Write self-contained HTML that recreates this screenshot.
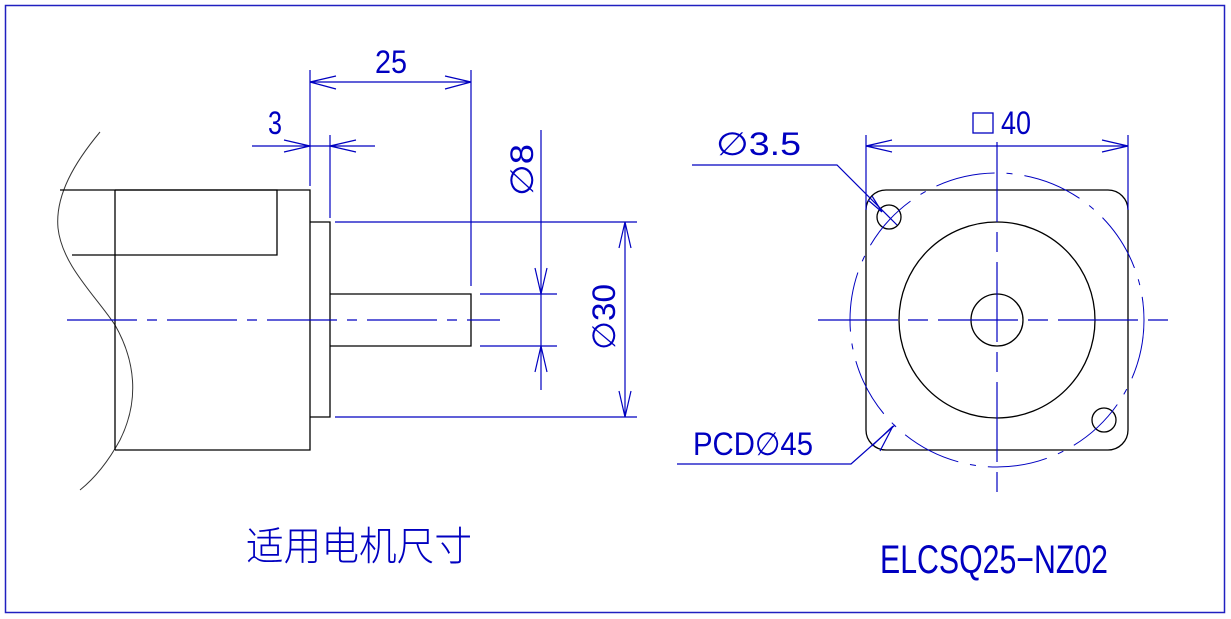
<!DOCTYPE html>
<html><head><meta charset="utf-8"><style>html,body{margin:0;padding:0;background:#fff}svg{display:block}</style></head>
<body>
<svg width="1231" height="619" viewBox="0 0 1231 619" xmlns="http://www.w3.org/2000/svg">
<rect x="5.5" y="5.5" width="1219" height="607" fill="none" stroke="#2020c0" stroke-width="1.5"/>
<g fill="none" stroke="#000" stroke-width="1.3">
<path d="M100,132 C75,162 55,195 58,228 C62,265 95,295 115,325 C135,360 140,400 120,440 C108,462 95,478 80,490" stroke="#333" stroke-width="1"/>
<polyline points="60,190 310,190 310,450 115,450"/>
<line x1="115" y1="190" x2="115" y2="450"/>
<polyline points="115,190 277,190 277,255 72,255"/>
<polyline points="310,222 330,222 330,417 310,417"/>
<polyline points="330,294 471,294 471,346 330,346"/>
<rect x="866" y="190" width="262" height="260" rx="20"/>
<circle cx="997" cy="320" r="98"/>
<circle cx="997" cy="320" r="26"/>
<circle cx="889" cy="217" r="12"/>
<circle cx="1104" cy="420" r="12"/>
</g>
<g fill="none" stroke="#0000c0" stroke-width="1.2">
<line x1="67" y1="320" x2="500" y2="320" stroke-dasharray="70,10,10,10"/>
<line x1="310" y1="70" x2="310" y2="186"/>
<line x1="471" y1="70" x2="471" y2="286"/>
<line x1="310" y1="82" x2="471" y2="82"/>
<path d="M336,76 L310,82 L336,89 M445,76 L471,82 L445,89"/>
<line x1="252" y1="146" x2="375" y2="146"/>
<line x1="330" y1="135" x2="330" y2="218"/>
<path d="M284,140 L310,146 L284,152 M356,140 L330,146 L356,152"/>
<line x1="335" y1="222" x2="637" y2="222"/>
<line x1="335" y1="417" x2="637" y2="417"/>
<line x1="480" y1="294" x2="557" y2="294"/>
<line x1="480" y1="346" x2="557" y2="346"/>
<line x1="541" y1="130" x2="541" y2="390"/>
<path d="M535,268 L541,294 L547,268 M535,372 L541,346 L547,372"/>
<line x1="625" y1="222" x2="625" y2="417"/>
<path d="M619,248 L625,222 L631,248 M619,391 L625,417 L631,391"/>
<line x1="818" y1="320" x2="1177" y2="320" stroke-dasharray="80,10,20,10"/>
<line x1="997" y1="142" x2="997" y2="497" stroke-dasharray="80,10,20,10"/>
<circle cx="997" cy="320" r="147" stroke-dasharray="60,12,6,12" stroke-width="1"/>
<line x1="866" y1="135" x2="866" y2="210"/>
<line x1="1128" y1="135" x2="1128" y2="210"/>
<line x1="866" y1="146" x2="1128" y2="146"/>
<path d="M892,140 L866,146 L892,152 M1102,140 L1128,146 L1102,152"/>
<polyline points="692,165 837,165 897,225"/>
<path d="M868,200 L882,212 M872,196 L882,212"/>
<polyline points="677,464 851,464 895,425"/>
<path d="M872,446 L893,426 M880,451 L893,426"/>
</g>
<g fill="#0000c0" font-family="'Liberation Sans Narrow','Liberation Sans',sans-serif">
<text x="375" y="73" font-size="32" textLength="32" lengthAdjust="spacingAndGlyphs">25</text>
<text x="268" y="134" font-size="32" textLength="14" lengthAdjust="spacingAndGlyphs">3</text>
<text transform="translate(533,196) rotate(-90)" font-size="32" textLength="52" lengthAdjust="spacingAndGlyphs">∅8</text>
<text transform="translate(615,350) rotate(-90)" font-size="32" textLength="66" lengthAdjust="spacingAndGlyphs">∅30</text>
<text x="716" y="155" font-size="32" textLength="85" lengthAdjust="spacingAndGlyphs">∅3.5</text>
<rect x="973" y="113" width="20" height="20" fill="none" stroke="#0000c0" stroke-width="1.3"/>
<text x="1001" y="134" font-size="32" textLength="30" lengthAdjust="spacingAndGlyphs">40</text>
<text x="693" y="455" font-size="32" textLength="120" lengthAdjust="spacingAndGlyphs">PCD∅45</text>
<text x="880" y="573" font-size="40" textLength="228" lengthAdjust="spacingAndGlyphs">ELCSQ25−NZ02</text>
<text x="246" y="560" font-size="40" font-family="'Liberation Sans','Noto Sans CJK SC',sans-serif" font-weight="300" textLength="226" lengthAdjust="spacingAndGlyphs">适用电机尺寸</text>
</g>
</svg>
</body></html>
